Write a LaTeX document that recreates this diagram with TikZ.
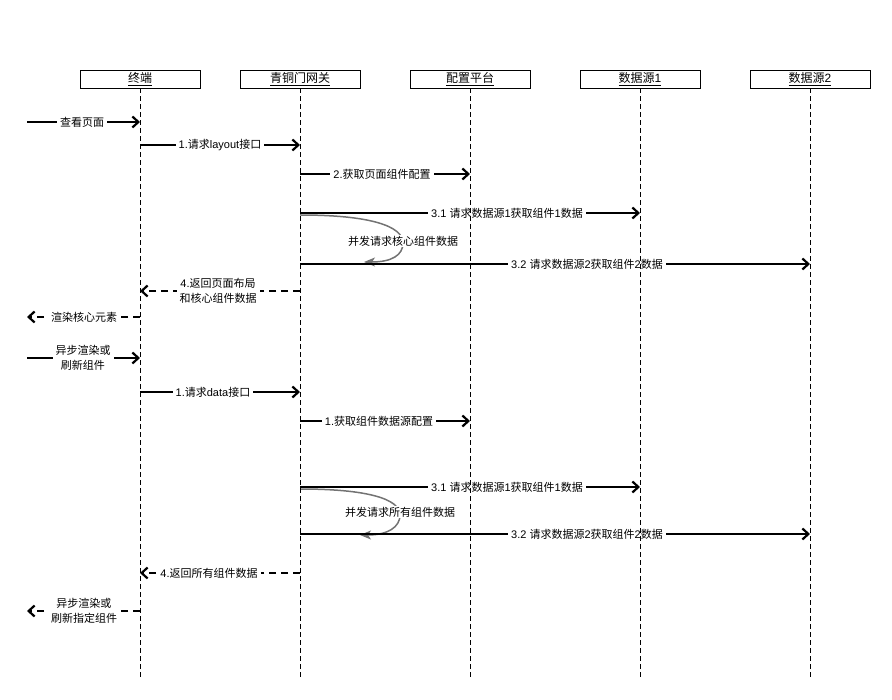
\documentclass[tikz,border=0pt]{standalone}
\usepackage{fontspec}
\setmainfont{Noto Sans CJK SC}
\newfontfamily\lat{Liberation Sans}
\newcommand\en[1]{{\lat #1}}
\usetikzlibrary{arrows.meta}
\begin{document}
\begin{tikzpicture}[x=1pt,y=-1pt,
  head/.style={draw=black, line width=0.8pt, minimum width=120pt, minimum height=18pt, inner sep=0pt, font=\fontsize{12}{14}\selectfont},
  lifeline/.style={line width=0.8pt, dash pattern=on 5pt off 3pt},
  msg/.style={line width=1.8pt, -{Straight Barb[length=6pt,width=11pt,line width=2.2pt]}},
  ret/.style={msg, dash pattern=on 7pt off 5pt},
  lbl/.style={fill=white, inner xsep=3pt, inner ysep=1pt, align=center, font=\fontsize{11}{15}\selectfont},
  conc/.style={draw=black!55, line width=1.5pt, -{Stealth[length=11pt,width=9pt,inset=3pt]}}
]
\useasboundingbox (0,0) rectangle (892,700);
% headers
\node[head] (h1) at (140,79) {\underline{终端}};
\node[head] (h2) at (300,79) {\underline{青铜门网关}};
\node[head] (h3) at (470,79) {\underline{配置平台}};
\node[head] (h4) at (640,79) {\underline{数据源\en{1}}};
\node[head] (h5) at (810,79) {\underline{数据源\en{2}}};
\coordinate (e1) at (140,680);
\coordinate (e2) at (300,680);
\coordinate (e3) at (470,680);
\coordinate (e4) at (640,680);
\coordinate (e5) at (810,680);
% outside points
\coordinate (o1) at (27,122);
\coordinate (o2) at (27,317);
\coordinate (o3) at (27,358);
\coordinate (o4) at (27,611);
% messages part 1
\draw[msg] (o1) -- (140,122);
\node[lbl] (l1) at (82,122) {查看页面};
\draw[msg] (140,145) -- (300,145);
\node[lbl] (l2) at (220,145) {\en{1.}请求\en{layout}接口};
\draw[msg] (300,174) -- (470,174);
\node[lbl] (l3) at (382,174) {\en{2.}获取页面组件配置};
\draw[msg] (300,213) -- (640,213);
\node[lbl] (l4) at (507,213) {\en{3.1 }请求数据源\en{1}获取组件\en{1}数据};
\coordinate (c1s) at (300,215);
\coordinate (c1e) at (364,262);
\draw[conc] (c1s) .. controls (370,215) and (403,226) .. (403,243) .. controls (403,255) and (392,262) .. (c1e);
\draw[msg] (300,264) -- (810,264);
\node[lbl] (l5) at (587,264) {\en{3.2 }请求数据源\en{2}获取组件\en{2}数据};
\node[lbl] (l6) at (403,241) {并发请求核心组件数据};
\draw[ret] (300,291) -- (140,291);
\node[lbl] (l7) at (218,291) {\en{4.}返回页面布局\\和核心组件数据};
\draw[ret] (140,317) -- (o2);
\node[lbl] (l8) at (84,317) {渲染核心元素};
\draw[msg] (o3) -- (140,358);
\node[lbl] (l9) at (83,358) {异步渲染或\\刷新组件};
% part 2
\draw[msg] (140,392) -- (300,392);
\node[lbl] (l10) at (213,392) {\en{1.}请求\en{data}接口};
\draw[msg] (300,421) -- (470,421);
\node[lbl] (l11) at (379,421) {\en{1.}获取组件数据源配置};
\draw[msg] (300,487) -- (640,487);
\node[lbl] (l12) at (507,487) {\en{3.1 }请求数据源\en{1}获取组件\en{1}数据};
\coordinate (c2s) at (300,489);
\coordinate (c2e) at (360,535);
\draw[conc] (c2s) .. controls (368,489) and (400,499) .. (400,515) .. controls (400,527) and (388,535) .. (c2e);
\draw[msg] (300,534) -- (810,534);
\node[lbl] (l13) at (587,534) {\en{3.2 }请求数据源\en{2}获取组件\en{2}数据};
\node[lbl] (l14) at (400,512) {并发请求所有组件数据};
\draw[ret] (300,573) -- (140,573);
\node[lbl] (l15) at (209,573) {\en{4.}返回所有组件数据};
\draw[ret] (140,611) -- (o4);
\node[lbl] (l16) at (84,611) {异步渲染或\\刷新指定组件};
% lifelines on top
\foreach \i in {1,...,5} \draw[lifeline] (h\i.south) -- (e\i);
\end{tikzpicture}
\end{document}
